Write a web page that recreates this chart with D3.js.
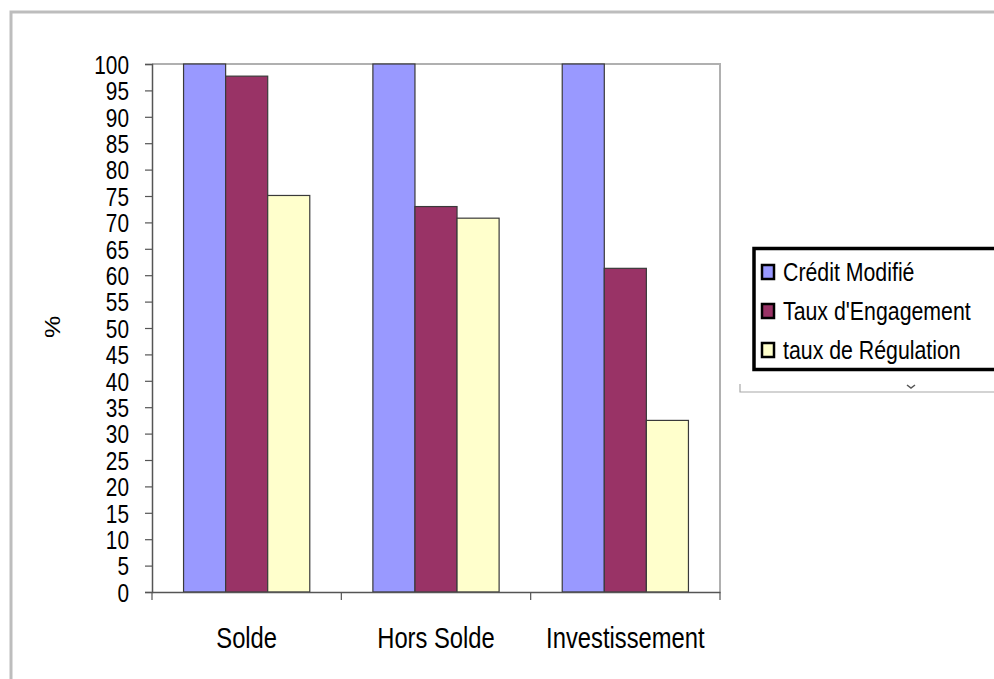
<!DOCTYPE html>
<html>
<head>
<meta charset="utf-8">
<script src="https://cdn.jsdelivr.net/npm/d3@7"></script>
<style>
  body { margin: 0; background: #fff; }
  svg text { font-family: "Liberation Sans", Arial, sans-serif; fill: #000; }
</style>
</head>
<body>
<svg id="chart" width="994" height="679"></svg>
<script>
// data
const categories = ["Solde", "Hors Solde", "Investissement"];
const seriesNames = ["Crédit Modifié", "Taux d'Engagement", "taux de Régulation"];
const creditModifie = [100, 100, 100];
const tauxEngagement = [97.7, 73.0, 61.3];
const tauxRegulation = [75.1, 70.8, 32.5];
const yTicks = [0, 5, 10, 15, 20, 25, 30, 35, 40, 45, 50, 55, 60, 65, 70, 75, 80, 85, 90, 95, 100];
const colors = ["#9999ff", "#993366", "#ffffcc"];

const allSeries = [creditModifie, tauxEngagement, tauxRegulation];

// the original uses a narrow face, squeeze the text horizontally
const SQ = 0.82;

const svg = d3.select("#chart");

// outer frame (grey, runs off the right and bottom)
svg.append("path")
  .attr("d", "M11,700 L11,12 L1000,12")
  .attr("fill", "none")
  .attr("stroke", "#bdbdbd")
  .attr("stroke-width", 3);

const margin = {top: 64, left: 152, right: 720, bottom: 592};

const x0 = d3.scaleBand()
  .domain(categories)
  .range([margin.left, margin.right])
  .padding(0);

const x1 = d3.scaleBand()
  .domain(seriesNames)
  .range([0, x0.bandwidth()])
  .paddingInner(0)
  .paddingOuter(0.75);

const y = d3.scaleLinear()
  .domain([0, 100])
  .range([margin.bottom, margin.top]);

// plot area box (top and right grey)
svg.append("path")
  .attr("d", `M${margin.left},${margin.top} L${margin.right},${margin.top} L${margin.right},${margin.bottom}`)
  .attr("fill", "none")
  .attr("stroke", "#b0b0b0")
  .attr("stroke-width", 2);

// bars
const groups = svg.append("g")
  .selectAll("g")
  .data(categories)
  .join("g")
  .attr("transform", d => `translate(${x0(d)},0)`);

groups.selectAll("rect")
  .data((c, ci) => seriesNames.map((s, si) => ({s: s, si: si, v: allSeries[si][ci]})))
  .join("rect")
  .attr("x", d => x1(d.s))
  .attr("y", d => y(d.v))
  .attr("width", x1.bandwidth())
  .attr("height", d => y(0) - y(d.v))
  .attr("fill", d => colors[d.si])
  .attr("stroke", "#3a3a3a")
  .attr("stroke-width", 1.2);

// y axis
const yAxis = svg.append("g")
  .attr("transform", `translate(${margin.left},0)`)
  .call(d3.axisLeft(y).tickValues(yTicks).tickSize(7));
yAxis.select(".domain").attr("stroke", "#555").attr("stroke-width", 1.5);
yAxis.selectAll(".tick line").attr("stroke", "#555").attr("stroke-width", 1.2);
yAxis.selectAll(".tick text")
  .style("font-size", "26px")
  .attr("x", 0)
  .attr("dy", "0.36em")
  .attr("transform", "translate(-23,0) scale(0.8,1)");

// x axis with ticks between categories
const xAxis = svg.append("g")
  .attr("transform", `translate(0,${margin.bottom})`)
  .call(d3.axisBottom(x0).tickSize(0).tickPadding(0).tickFormat(""));
xAxis.select(".domain").attr("stroke", "#555").attr("stroke-width", 1.5);
xAxis.selectAll(".sep")
  .data(d3.range(categories.length + 1))
  .join("line")
  .attr("class", "sep")
  .attr("x1", i => margin.left + i * x0.step())
  .attr("x2", i => margin.left + i * x0.step())
  .attr("y1", 0)
  .attr("y2", 8)
  .attr("stroke", "#555")
  .attr("stroke-width", 1.2);

svg.append("g").selectAll("text")
  .data(categories)
  .join("text")
  .attr("transform", d => `translate(${x0(d) + x0.bandwidth() / 2},648) scale(${SQ},1)`)
  .attr("text-anchor", "middle")
  .style("font-size", "29px")
  .text(d => d);

// y axis title
svg.append("text")
  .attr("transform", "translate(60,327) rotate(-90) scale(1,0.85)")
  .attr("text-anchor", "middle")
  .style("font-size", "25px")
  .text("%");

// legend
const legend = svg.append("g");
legend.append("rect")
  .attr("x", 754)
  .attr("y", 248.5)
  .attr("width", 260)
  .attr("height", 121)
  .attr("fill", "#fff")
  .attr("stroke", "#000")
  .attr("stroke-width", 3.5);

const rowY = [272, 311, 350];
const items = legend.selectAll(".item")
  .data(seriesNames)
  .join("g")
  .attr("class", "item")
  .attr("transform", (d, i) => `translate(762,${rowY[i]})`);
items.append("rect")
  .attr("x", 0)
  .attr("y", -7)
  .attr("width", 12)
  .attr("height", 14)
  .attr("fill", (d, i) => colors[i])
  .attr("stroke", "#000")
  .attr("stroke-width", 2.5);
items.append("text")
  .attr("transform", `translate(21,0) scale(${SQ},1)`)
  .attr("dy", "0.36em")
  .style("font-size", "26px")
  .text(d => d);

// grey rule under the legend
svg.append("path")
  .attr("d", "M740,384 L740,392 L1000,392")
  .attr("fill", "none")
  .attr("stroke", "#a8a8a8")
  .attr("stroke-width", 1.2);
svg.append("path")
  .attr("d", "M907,385 L911,388 L915,385")
  .attr("fill", "none")
  .attr("stroke", "#555")
  .attr("stroke-width", 1.5);
</script>
</body>
</html>
